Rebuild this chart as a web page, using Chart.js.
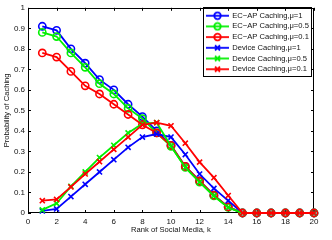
<!DOCTYPE html>
<html><head><meta charset="utf-8">
<script src="https://cdn.jsdelivr.net/npm/chart.js@4/dist/chart.umd.min.js"></script>
<style>html,body{margin:0;padding:0;background:#fff;}canvas{display:block;}</style>
</head><body>
<canvas id="c" width="332" height="240"></canvas>
<script>
// ---- data ----
const ranks = [1,2,3,4,5,6,7,8,9,10,11,12,13,14,15,16,17,18,19,20];
const xTickLabels = ['0','2','4','6','8','10','12','14','16','18','20'];
const yTickLabels = ['0','0.1','0.2','0.3','0.4','0.5','0.6','0.7','0.8','0.9','1'];
const seriesLabels = ['EC\u2212AP Caching,\u03bc=1','EC\u2212AP Caching,\u03bc=0.5','EC\u2212AP Caching,\u03bc=0.1',
                      'Device Caching,\u03bc=1','Device Caching,\u03bc=0.5','Device Caching,\u03bc=0.1'];
const ecapMu1   = [0.91,0.89,0.80,0.73,0.65,0.60,0.53,0.47,0.40,0.33,0.227,0.156,0.087,0.03,0,0,0,0,0,0];
const ecapMu05  = [0.88,0.86,0.78,0.71,0.63,0.58,0.51,0.46,0.39,0.325,0.222,0.151,0.083,0.027,0,0,0,0,0,0];
const ecapMu01  = [0.78,0.76,0.69,0.62,0.58,0.53,0.48,0.43,0.39,0.33,0.227,0.156,0.087,0.03,0,0,0,0,0,0];
const devMu1    = [0.01,0.02,0.08,0.14,0.20,0.26,0.32,0.37,0.385,0.37,0.285,0.19,0.12,0.06,0,0,0,0,0,0];
const devMu05   = [0.015,0.047,0.13,0.20,0.27,0.33,0.39,0.435,0.44,0.325,0.222,0.151,0.083,0.027,0,0,0,0,0,0];
const devMu01   = [0.06,0.066,0.127,0.19,0.25,0.31,0.37,0.43,0.44,0.425,0.34,0.248,0.172,0.085,0,0,0,0,0,0];
const xTitle = 'Rank of Social Media, k';
const yTitle = 'Probability of Caching';

// ---- styles ----
const FONT = '"Liberation Sans", Arial, Helvetica, sans-serif';
const colors = ['#0000ff','#00f000','#ff0000','#0000ff','#00f000','#ff0000'];
const styles = ['circle','circle','circle','crossRot','crossRot','crossRot'];
const seriesData = [ecapMu1, ecapMu05, ecapMu01, devMu1, devMu05, devMu01];

function legendIcon(color, style) {
  const c = document.createElement('canvas');
  c.width = 23; c.height = 10;
  const g = c.getContext('2d');
  g.strokeStyle = color; g.lineWidth = 1.8;
  g.beginPath(); g.moveTo(0, 5); g.lineTo(23, 5); g.stroke();
  g.beginPath();
  if (style === 'circle') { g.arc(11.5, 5, 3.3, 0, Math.PI * 2); }
  else { g.moveTo(9, 2.5); g.lineTo(14, 7.5); g.moveTo(14, 2.5); g.lineTo(9, 7.5); }
  g.stroke();
  return c;
}
const icons = colors.map((c, i) => legendIcon(c, styles[i]));

const datasets = seriesData.map((arr, i) => ({
  label: seriesLabels[i],
  data: ranks.map((k, j) => ({x: k, y: arr[j]})),
  borderColor: colors[i],
  backgroundColor: colors[i],
  borderWidth: 1.8,
  pointStyle: styles[i],
  pointRadius: 3.6,
  pointBorderWidth: 1.6,
  pointBackgroundColor: 'rgba(0,0,0,0)',
  pointBorderColor: colors[i],
  tension: 0,
  clip: false,
  order: 6 - i
}));

const framePlugin = {
  id: 'frame',
  beforeDatasetsDraw(chart) {
    const {ctx, chartArea: a, scales} = chart;
    ctx.save();
    ctx.strokeStyle = '#000'; ctx.lineWidth = 1;
    ctx.strokeRect(Math.round(a.left) + 0.5, Math.round(a.top) + 0.5,
                   Math.round(a.right - a.left) - 1, Math.round(a.bottom - a.top) - 1);
    ctx.beginPath();
    const tl = 3;
    scales.x.ticks.forEach(t => {
      const px = Math.round(scales.x.getPixelForValue(t.value)) + 0.5;
      ctx.moveTo(px, a.bottom); ctx.lineTo(px, a.bottom - tl);
      ctx.moveTo(px, a.top); ctx.lineTo(px, a.top + tl);
    });
    scales.y.ticks.forEach(t => {
      const py = Math.round(scales.y.getPixelForValue(t.value)) + 0.5;
      ctx.moveTo(a.left, py); ctx.lineTo(a.left + tl, py);
      ctx.moveTo(a.right, py); ctx.lineTo(a.right - tl, py);
    });
    ctx.stroke();
    ctx.restore();
  }
};

const legendPlace = {
  id: 'legendPlace',
  afterLayout(chart) {
    const lg = chart.legend;
    if (!lg) return;
    lg.left = 203.4; lg.top = 8.8;
    lg.right = lg.left + lg.width; lg.bottom = lg.top + 200;
  },
  afterDraw(chart) {
    const {ctx} = chart;
    ctx.save();
    ctx.font = '7.6px ' + FONT;
    const maxW = Math.max(...seriesLabels.map(s => ctx.measureText(s).width));
    const x0 = 203.5, y0 = 7.5;
    const w = Math.round(3 + 22 + 3.8 + maxW + 3);
    ctx.strokeStyle = '#000'; ctx.lineWidth = 1;
    ctx.strokeRect(x0, y0, w, 69);
    ctx.restore();
  }
};

new Chart(document.getElementById('c'), {
  type: 'line',
  data: {datasets},
  options: {
    responsive: false,
    animation: false,
    devicePixelRatio: 1,
    layout: {padding: {top: 6, right: 18, left: 0, bottom: 0}},
    plugins: {
      tooltip: {enabled: false},
      legend: {
        display: true,
        position: 'chartArea',
        align: 'start',
        labels: {
          usePointStyle: true,
          pointStyleWidth: 22,
          padding: 3.1,
          color: '#111',
          font: {family: FONT, size: 7.6},
          sort: (a, b) => a.datasetIndex - b.datasetIndex,
          generateLabels: (chart) => chart.data.datasets.map((d, i) => ({
            text: d.label, datasetIndex: i, pointStyle: icons[i],
            fillStyle: colors[i], strokeStyle: colors[i], lineWidth: 0, hidden: false,
            fontColor: '#111'
          }))
        }
      }
    },
    scales: {
      x: {
        type: 'linear', min: 0, max: 20,
        afterFit: s => { s.height = 27; },
        grid: {display: false, drawTicks: false},
        border: {display: false},
        ticks: {stepSize: 2, padding: 4, color: '#111', font: {family: FONT, size: 8}, maxRotation: 0,
                callback: (v, i) => xTickLabels[i]},
        title: {display: true, text: xTitle, color: '#111', font: {family: FONT, size: 7.6}, padding: {top: 0, bottom: 5.5}}
      },
      y: {
        type: 'linear', min: 0, max: 1,
        afterFit: s => { s.width = 28; },
        grid: {display: false, drawTicks: false},
        border: {display: false},
        ticks: {stepSize: 0.1, padding: 3, color: '#111', font: {family: FONT, size: 8},
                callback: (v, i) => yTickLabels[i]},
        title: {display: true, text: yTitle, color: '#111', font: {family: FONT, size: 7.6}, padding: {top: 2, bottom: 0}}
      }
    }
  },
  plugins: [framePlugin, legendPlace]
});
</script>
</body></html>
